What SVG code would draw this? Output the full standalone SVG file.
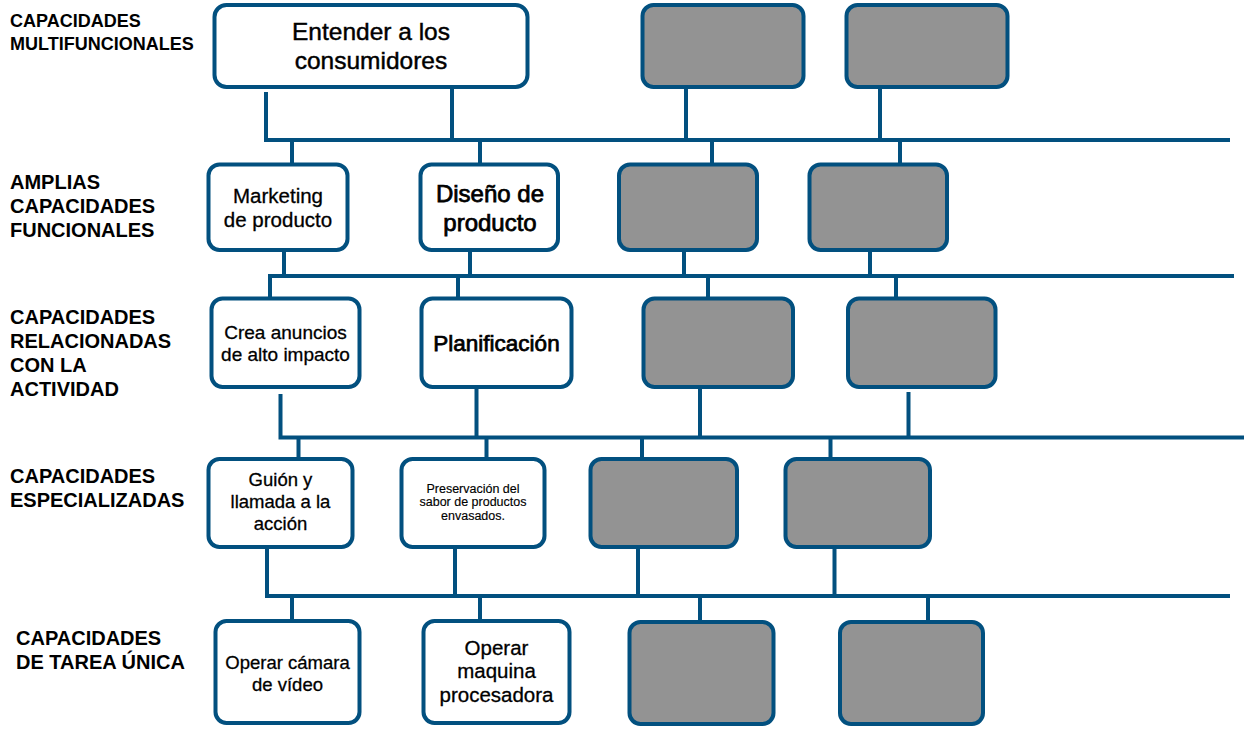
<svg xmlns="http://www.w3.org/2000/svg" width="1246" height="730" viewBox="0 0 1246 730">
<style>
.bg{fill:#ffffff}
.n{fill:#ffffff;stroke:#02507f;stroke-width:4}
.g{fill:#939393;stroke:#02507f;stroke-width:4}
.c{fill:none;stroke:#02507f;stroke-width:4;stroke-linecap:butt;stroke-linejoin:miter}
.lab{font-family:"Liberation Sans",Arial,Helvetica,sans-serif;font-weight:bold;fill:#000000;font-size:20px}
.lab1{font-size:18px}
.t{font-family:"Liberation Sans",Arial,Helvetica,sans-serif;fill:#000000;text-anchor:middle;stroke:#000000;stroke-width:0.3}
.m{stroke-width:0.75}
.e{stroke-width:0.45}
.s{stroke-width:0.15}
</style>
<rect class="bg" x="0" y="0" width="1246" height="730"/>

<g id="labels">
<text class="lab lab1" x="10" y="27">CAPACIDADES</text>
<text class="lab lab1" x="10" y="49.5">MULTIFUNCIONALES</text>
<text class="lab" x="10" y="189">AMPLIAS</text>
<text class="lab" x="10" y="212.5">CAPACIDADES</text>
<text class="lab" x="10" y="236.5">FUNCIONALES</text>
<text class="lab" x="10" y="324">CAPACIDADES</text>
<text class="lab" x="10" y="348">RELACIONADAS</text>
<text class="lab" x="10" y="372">CON LA</text>
<text class="lab" x="10" y="396">ACTIVIDAD</text>
<text class="lab" x="10" y="483">CAPACIDADES</text>
<text class="lab" x="10" y="507">ESPECIALIZADAS</text>
<text class="lab" x="16" y="645">CAPACIDADES</text>
<text class="lab" x="16" y="669">DE TAREA ÚNICA</text>
</g>

<g id="connectors">
<path class="c" d="M266 92 V140 M452 87 V140 M686 87 V140 M880 87 V140 M264 140 H1230"/>
<path class="c" d="M292 140 V164 M480 140 V164 M712 140 V164 M900 140 V164"/>
<path class="c" d="M284 250 V276 M470 250 V276 M684 250 V276 M870 250 V276 M270 297 V276 H1234"/>
<path class="c" d="M458 276 V298 M708 276 V298 M896 276 V298"/>
<path class="c" d="M280.5 394 V437.5 M476.5 387 V437.5 M700 387 V437.5 M908.5 392 V437.5 M278.5 437.5 H1244"/>
<path class="c" d="M298.5 437.5 V459 M486.5 437.5 V459 M642 437.5 V459 M830.5 437.5 V459"/>
<path class="c" d="M267 547 V596 M455 547 V596 M638 547 V596 M834.5 547 V596 M265 596 H1230"/>
<path class="c" d="M292 596 V621 M480 596 V621 M700 596 V621 M928 596 V621"/>
</g>

<g id="n-entender">
<rect class="n" x="214.5" y="5" width="313" height="82" rx="12"/>
<text class="t e" font-size="24.5" x="371" y="39.5">Entender a los</text>
<text class="t e" font-size="24.5" x="371" y="69">consumidores</text>
</g>
<g id="n-g1a"><rect class="g" x="642.5" y="5" width="161" height="82" rx="11"/></g>
<g id="n-g1b"><rect class="g" x="846.5" y="5" width="161" height="82" rx="11"/></g>

<g id="n-marketing">
<rect class="n" x="208.5" y="164.5" width="139" height="85.5" rx="11"/>
<text class="t" font-size="20.5" x="278" y="203">Marketing</text>
<text class="t" font-size="20.5" x="278" y="226.5">de producto</text>
</g>
<g id="n-diseno">
<rect class="n" x="420.5" y="164.5" width="137.5" height="85.5" rx="11"/>
<text class="t m" font-size="24" x="490" y="202">Diseño de</text>
<text class="t m" font-size="24" x="490" y="231">producto</text>
</g>
<g id="n-g2a"><rect class="g" x="619" y="164.5" width="138" height="85.5" rx="11"/></g>
<g id="n-g2b"><rect class="g" x="809.5" y="164.5" width="137.5" height="85.5" rx="11"/></g>

<g id="n-crea">
<rect class="n" x="211.5" y="298.5" width="148" height="88.5" rx="11"/>
<text class="t" font-size="19" x="285.5" y="338.5">Crea anuncios</text>
<text class="t" font-size="19" x="285.5" y="360.5">de alto impacto</text>
</g>
<g id="n-planificacion">
<rect class="n" x="421.5" y="298.5" width="150" height="88.5" rx="11"/>
<text class="t m" font-size="22.5" x="496.5" y="351">Planificación</text>
</g>
<g id="n-g3a"><rect class="g" x="643.5" y="298.5" width="149.5" height="88.5" rx="11"/></g>
<g id="n-g3b"><rect class="g" x="848" y="298.5" width="147.5" height="88.5" rx="11"/></g>

<g id="n-guion">
<rect class="n" x="208.5" y="459" width="144" height="88" rx="11"/>
<text class="t" font-size="18.5" x="280.5" y="486">Guión y</text>
<text class="t" font-size="18.5" x="280.5" y="508">llamada a la</text>
<text class="t" font-size="18.5" x="280.5" y="530">acción</text>
</g>
<g id="n-preservacion">
<rect class="n" x="401.5" y="459" width="143" height="88" rx="11"/>
<text class="t s" font-size="12.5" x="473" y="492.5">Preservación del</text>
<text class="t s" font-size="12.5" x="473" y="506">sabor de productos</text>
<text class="t s" font-size="12.5" x="473" y="519.5">envasados.</text>
</g>
<g id="n-g4a"><rect class="g" x="590.5" y="459" width="146.5" height="88" rx="11"/></g>
<g id="n-g4b"><rect class="g" x="785.5" y="459" width="144.5" height="88" rx="11"/></g>

<g id="n-camara">
<rect class="n" x="215.5" y="621" width="144" height="102" rx="11"/>
<text class="t" font-size="18.5" x="287.5" y="668.5">Operar cámara</text>
<text class="t" font-size="18.5" x="287.5" y="690.5">de vídeo</text>
</g>
<g id="n-maquina">
<rect class="n" x="423.5" y="621" width="146" height="102" rx="11"/>
<text class="t" font-size="20.5" x="496.5" y="654.5">Operar</text>
<text class="t" font-size="20.5" x="496.5" y="678">maquina</text>
<text class="t" font-size="20.5" x="496.5" y="701.5">procesadora</text>
</g>
<g id="n-g5a"><rect class="g" x="629.5" y="622" width="144" height="102" rx="11"/></g>
<g id="n-g5b"><rect class="g" x="840" y="622" width="143" height="102" rx="11"/></g>
</svg>
